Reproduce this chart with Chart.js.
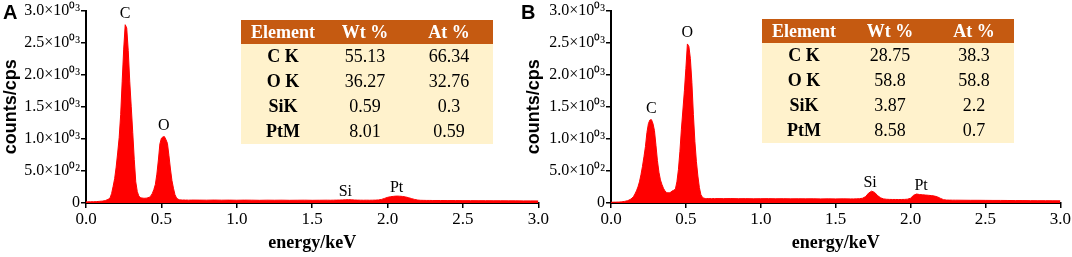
<!DOCTYPE html>
<html>
<head>
<meta charset="utf-8">
<script src="https://cdn.jsdelivr.net/npm/chart.js@4.4.0/dist/chart.umd.min.js"></script>
<style>
  body { margin: 0; width: 1072px; height: 257px; background: #fff; position: relative; overflow: hidden; font-family: "Liberation Serif", serif; }
  .panel { position: absolute; top: 0; }
  .letter { position: absolute; top: 1px; font: bold 20px "Liberation Sans", Arial, sans-serif; color: #000; }
  table.eds { position: absolute; border-collapse: collapse; table-layout: fixed; width: 252px; font-size: 18px; font-family: "Liberation Serif", serif; color: #000; }
  table.eds th { background: #C55A11; color: #fff; height: 24px; padding: 0; font-weight: bold; text-align: center; }
  table.eds td { background: #FFF2CC; height: 25px; padding: 0; text-align: center; }
  table.eds td.el { font-weight: bold; }
</style>
</head>
<body>
<canvas id="chartA" class="panel" width="550" height="257" style="left:0px"></canvas>
<canvas id="chartB" class="panel" width="552" height="257" style="left:520px"></canvas>
<div class="letter" style="left:3px">A</div>
<div class="letter" style="left:521px">B</div>
<table class="eds" id="tableA" style="left:241px; top:20px"></table>
<table class="eds" id="tableB" style="left:762px; top:19px"></table>

<script>
// energy axis (keV), shared by both spectra
const energy = [
  0.00, 0.01, 0.02, 0.03, 0.04, 0.05, 0.06, 0.07, 0.08, 0.09,
  0.10, 0.11, 0.12, 0.13, 0.14, 0.15, 0.16, 0.17, 0.18, 0.19,
  0.20, 0.21, 0.22, 0.23, 0.24, 0.25, 0.26, 0.27, 0.28, 0.29,
  0.30, 0.31, 0.32, 0.33, 0.34, 0.35, 0.36, 0.37, 0.38, 0.39,
  0.40, 0.41, 0.42, 0.43, 0.44, 0.45, 0.46, 0.47, 0.48, 0.49,
  0.50, 0.51, 0.52, 0.53, 0.54, 0.55, 0.56, 0.57, 0.58, 0.59,
  0.60, 0.61, 0.62, 0.63, 0.64, 0.65, 0.66, 0.67, 0.68, 0.69, 0.70,
  0.75, 0.80, 0.85, 0.90, 0.95, 1.00, 1.05, 1.10, 1.15, 1.20,
  1.25, 1.30, 1.35, 1.40, 1.45, 1.50, 1.55, 1.60,
  1.62, 1.64, 1.66, 1.68, 1.70, 1.72, 1.74, 1.76, 1.78, 1.80,
  1.82, 1.84, 1.86, 1.88, 1.90, 1.92, 1.94, 1.96, 1.98, 2.00,
  2.02, 2.04, 2.06, 2.08, 2.10, 2.12, 2.14, 2.16, 2.18, 2.20,
  2.22, 2.24, 2.26, 2.28, 2.30,
  2.35, 2.40, 2.45, 2.50, 2.55, 2.60, 2.65, 2.70, 2.75, 2.80,
  2.85, 2.90, 2.95, 3.00
];

// counts/cps, sample A
const countsA = [
  18, 18, 19, 19, 20, 20, 21, 22, 24, 26,
  28, 30, 34, 40, 50, 62, 80, 150, 260, 380,
  560, 780, 1020, 1380, 1900, 2400, 2780, 2730, 2380, 1900,
  1500, 1100, 680, 330, 180, 110, 85, 78, 75, 74,
  76, 82, 90, 110, 150, 210, 290, 450, 670, 920,
  1010, 1030, 1035, 990, 930, 740, 530, 350, 230, 130,
  80, 60, 50, 48, 46, 47, 45, 46, 44, 45, 46,
  45, 44, 46, 44, 45, 43, 45, 44, 42, 44,
  43, 44, 42, 43, 44, 42, 43, 44,
  43, 44, 45, 46, 48, 50, 52, 50, 47, 45,
  44, 43, 44, 43, 44, 45, 48, 56, 72, 88,
  98, 104, 108, 106, 102, 94, 82, 68, 55, 46,
  42, 41, 40, 40, 39,
  39, 38, 38, 37, 37, 36, 36, 35, 35, 34,
  34, 33, 33, 32
];

// counts/cps, sample B
const countsB = [
  12, 12, 13, 13, 14, 15, 16, 18, 21, 25,
  30, 36, 45, 58, 75, 100, 140, 190, 250, 330,
  440, 570, 720, 880, 1100, 1240, 1295, 1300, 1240, 1130,
  900, 660, 480, 360, 290, 230, 190, 165, 158, 160,
  170, 190, 200, 220, 330, 520, 800, 1150, 1450, 1750,
  2100, 2480, 2440, 2250, 1880, 1380, 960, 650, 420, 240,
  130, 90, 75, 70, 68, 70, 69, 67, 70, 68, 69,
  68, 69, 67, 68, 66, 67, 68, 66, 67, 65,
  66, 65, 66, 64, 65, 64, 65, 64,
  64, 65, 67, 75, 100, 155, 185, 165, 115, 80,
  64, 58, 56, 55, 55, 54, 55, 56, 60, 75,
  120, 140, 132, 128, 124, 120, 115, 108, 95, 72,
  52, 46, 45, 44, 44,
  43, 42, 42, 41, 40, 40, 39, 38, 38, 37,
  36, 36, 35, 34
];

const xTickLabels = ['0.0', '0.5', '1.0', '1.5', '2.0', '2.5', '3.0'];
const yTickLabels = ['0', '5.0×10⁰²', '1.0×10⁰³', '1.5×10⁰³', '2.0×10⁰³', '2.5×10⁰³', '3.0×10⁰³'];

const peakNamesA = ['C', 'O', 'Si', 'Pt'];
const peakEnergyA = [0.26, 0.515, 1.72, 2.06];
const peakNamesB = ['C', 'O', 'Si', 'Pt'];
const peakEnergyB = [0.27, 0.51, 1.73, 2.07];

const tableHead = ['Element', 'Wt %', 'At %'];
const elements = ['C K', 'O K', 'SiK', 'PtM'];
const wtA = ['55.13', '36.27', '0.59', '8.01'];
const atA = ['66.34', '32.76', '0.3', '0.59'];
const wtB = ['28.75', '58.8', '3.87', '8.58'];
const atB = ['38.3', '58.8', '2.2', '0.7'];

function buildTable(id, wt, at, colW) {
  let html = '<colgroup>' + colW.map(w => '<col style="width:' + w + 'px">').join('') + '</colgroup>';
  html += '<tr>' + tableHead.map(h => '<th>' + h + '</th>').join('') + '</tr>';
  for (let i = 0; i < elements.length; i++) {
    html += '<tr><td class="el">' + elements[i] + '</td><td>' + wt[i] + '</td><td>' + at[i] + '</td></tr>';
  }
  document.getElementById(id).innerHTML = html;
}
buildTable('tableA', wtA, atA, [84, 80, 88]);
buildTable('tableB', wtB, atB, [84, 88, 80]);

// writes the element symbol just above the highest point near each peak
const peakLabels = {
  id: 'peakLabels',
  afterDatasetsDraw(chart, args, opts) {
    const ctx = chart.ctx;
    const xs = chart.scales.x, ys = chart.scales.y;
    const pts = chart.data.datasets[0].data;
    ctx.save();
    ctx.font = '16px "Liberation Serif"';
    ctx.fillStyle = '#000';
    ctx.textAlign = 'center';
    ctx.textBaseline = 'alphabetic';
    opts.names.forEach((name, i) => {
      const e = opts.energies[i];
      let top = 0;
      pts.forEach(p => { if (Math.abs(p.x - e) <= 0.03 && p.y > top) top = p.y; });
      const gap = top > 500 ? 7 : 4;
      ctx.fillText(name, xs.getPixelForValue(e), ys.getPixelForValue(top) - gap);
    });
    ctx.restore();
  }
};

function makeChart(id, counts, names, energies, yWidth, padRight, yTitlePad) {
  const pts = energy.map((e, i) => ({ x: e, y: counts[i] }));
  return new Chart(document.getElementById(id), {
    type: 'line',
    data: {
      datasets: [{
        data: pts,
        borderColor: '#FF0000',
        backgroundColor: '#FF0000',
        borderWidth: 1,
        pointRadius: 0,
        fill: 'origin',
        tension: 0
      }]
    },
    options: {
      responsive: false,
      animation: false,
      layout: { padding: { top: 9, right: padRight, bottom: 0, left: 0 } },
      plugins: {
        legend: { display: false },
        tooltip: { enabled: false },
        peakLabels: { names: names, energies: energies }
      },
      scales: {
        x: {
          type: 'linear',
          min: 0, max: 3,
          z: 1,
          afterFit: s => { s.height = 54; },
          ticks: {
            stepSize: 0.5,
            padding: 1,
            color: '#000',
            font: { family: 'Liberation Serif', size: 17 },
            callback: (v, i) => xTickLabels[i]
          },
          grid: { display: true, drawOnChartArea: false, drawTicks: true, tickLength: 5, color: '#000', lineWidth: 1.5 },
          border: { display: true, color: '#000', width: 2 },
          title: {
            display: true,
            text: 'energy/keV',
            color: '#000',
            font: { family: 'Liberation Serif', size: 18, weight: 'bold' },
            padding: { top: 0, bottom: 3 }
          }
        },
        y: {
          min: 0, max: 3000,
          z: 1,
          afterFit: s => { s.width = yWidth; },
          ticks: {
            stepSize: 500,
            autoSkip: false,
            padding: 1,
            color: '#000',
            font: { family: 'Liberation Serif', size: 16 },
            callback: (v, i) => yTickLabels[i]
          },
          grid: { display: true, drawOnChartArea: false, drawTicks: true, tickLength: 5, color: '#000', lineWidth: 1.5 },
          border: { display: true, color: '#000', width: 2 },
          title: {
            display: true,
            text: 'counts/cps',
            color: '#000',
            font: { family: 'Liberation Sans', size: 18, weight: 'bold' },
            padding: { top: yTitlePad, bottom: 0 }
          }
        }
      }
    },
    plugins: [peakLabels]
  });
}

makeChart('chartA', countsA, peakNamesA, peakEnergyA, 86, 11, 0);
makeChart('chartB', countsB, peakNamesB, peakEnergyB, 91, 10, 3);
</script>
</body>
</html>
